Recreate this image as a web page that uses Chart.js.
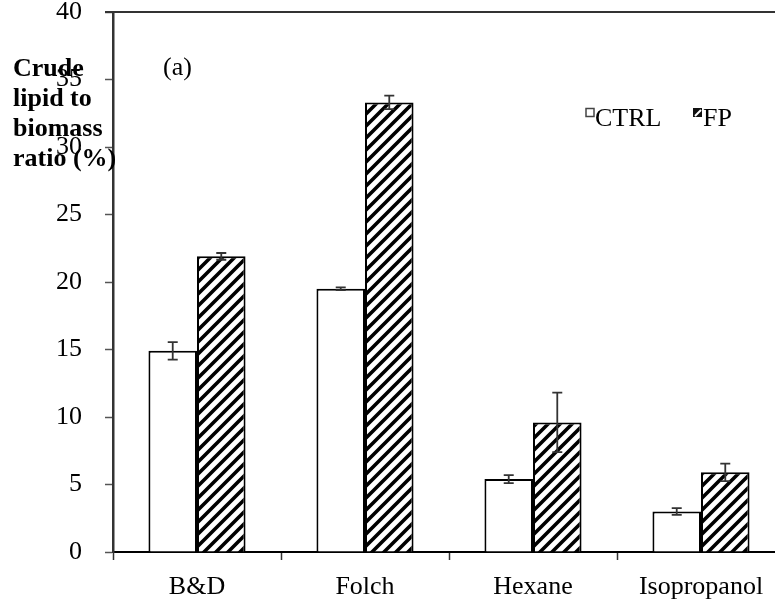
<!DOCTYPE html>
<html>
<head>
<meta charset="utf-8">
<script src="https://cdn.jsdelivr.net/npm/chart.js@4.4.1/dist/chart.umd.min.js"></script>
<style>
  html, body { margin: 0; padding: 0; background: #fff; overflow: hidden; width: 775px; height: 611px; }
  #wrap { position: absolute; left: 0; top: 0; width: 790px; height: 611px; }
</style>
</head>
<body>
<div id="wrap"><canvas id="c" width="790" height="611"></canvas></div>
<script>
// ---- data ----
const categories = ['B&D', 'Folch', 'Hexane', 'Isopropanol'];
const ctrlValues = [14.9, 19.5, 5.4, 3.0];
const ctrlErrors = [0.65, 0.1, 0.3, 0.25];
const fpValues = [21.9, 33.3, 9.6, 5.9];
const fpErrors = [0.25, 0.5, 2.2, 0.65];
const seriesNames = ['CTRL', 'FP'];
const yTitleLines = ['Crude', 'lipid to', 'biomass', 'ratio (%)'];
const panelLabel = '(a)';

const SERIF = '"Liberation Serif", "Times New Roman", serif';

// hatch pattern
function makeHatch() {
  const n = 12;
  const p = document.createElement('canvas');
  p.width = n; p.height = n;
  const g = p.getContext('2d');
  g.fillStyle = '#fff';
  g.fillRect(0, 0, n, n);
  g.strokeStyle = '#000';
  g.lineWidth = 3.6;
  g.beginPath();
  g.moveTo(-1, n + 1); g.lineTo(n + 1, -1);
  g.moveTo(-n / 2 - 1, n / 2 + 1); g.lineTo(n / 2 + 1, -n / 2 - 1);
  g.moveTo(n / 2 - 1, n * 1.5 + 1); g.lineTo(n * 1.5 + 1, n / 2 - 1);
  g.stroke();
  return document.getElementById('c').getContext('2d').createPattern(p, 'repeat');
}
const hatch = makeHatch();

const errorBars = {
  id: 'errorBars',
  afterDatasetsDraw(chart) {
    const ctx = chart.ctx;
    const y = chart.scales.y;
    const errs = [ctrlErrors, fpErrors];
    ctx.save();
    ctx.strokeStyle = '#333';
    ctx.lineWidth = 1.8;
    chart.data.datasets.forEach((ds, di) => {
      const meta = chart.getDatasetMeta(di);
      meta.data.forEach((el, i) => {
        const v = ds.data[i], e = errs[di][i];
        const x = el.x;
        const yt = y.getPixelForValue(v + e);
        const yb = y.getPixelForValue(v - e);
        ctx.beginPath();
        ctx.moveTo(x, yt); ctx.lineTo(x, yb);
        ctx.moveTo(x - 5, yt); ctx.lineTo(x + 5, yt);
        ctx.moveTo(x - 5, yb); ctx.lineTo(x + 5, yb);
        ctx.stroke();
      });
    });
    ctx.restore();
  }
};

const decorations = {
  id: 'decorations',
  afterDraw(chart) {
    const ctx = chart.ctx;
    const a = chart.chartArea;
    ctx.save();
    // top frame line
    ctx.strokeStyle = '#333';
    ctx.lineWidth = 2;
    ctx.beginPath();
    ctx.moveTo(a.left - 8, a.top);
    ctx.lineTo(a.right, a.top);
    ctx.stroke();

    // y title
    ctx.fillStyle = '#000';
    ctx.font = 'bold 26px ' + SERIF;
    ctx.textAlign = 'left';
    ctx.textBaseline = 'alphabetic';
    yTitleLines.forEach((t, i) => ctx.fillText(t, 13, 76 + i * 30));

    // panel label
    ctx.font = '26px ' + SERIF;
    ctx.fillText(panelLabel, 163, 75);

    // legend
    ctx.lineWidth = 1.5;
    ctx.strokeStyle = '#444';
    ctx.strokeRect(586, 108.5, 8, 8);
    ctx.fillText(seriesNames[0], 595, 126);
    ctx.fillStyle = '#111';
    ctx.fillRect(693, 108, 9, 9);
    ctx.strokeStyle = '#fff';
    ctx.lineWidth = 2;
    ctx.beginPath();
    ctx.moveTo(695, 116); ctx.lineTo(701, 110);
    ctx.stroke();
    ctx.fillStyle = '#000';
    ctx.fillText(seriesNames[1], 703, 126);
    ctx.restore();
  }
};

new Chart(document.getElementById('c'), {
  type: 'bar',
  data: {
    labels: categories,
    datasets: [
      { label: seriesNames[0], data: ctrlValues, backgroundColor: '#fff', borderColor: '#000', borderWidth: 2 },
      { label: seriesNames[1], data: fpValues, backgroundColor: hatch, borderColor: '#000', borderWidth: 2 }
    ]
  },
  options: {
    responsive: false,
    devicePixelRatio: 1,
    animation: false,
    events: [],
    layout: { padding: { left: 0, top: 12, right: 5, bottom: 0 } },
    datasets: { bar: { categoryPercentage: 0.578, barPercentage: 1.0 } },
    plugins: { legend: { display: false }, title: { display: false }, tooltip: { enabled: false } },
    scales: {
      x: {
        grid: { display: true, drawOnChartArea: false, drawTicks: true, tickLength: 8, tickColor: '#333', tickWidth: 1.5, offset: true },
        border: { display: true, color: '#000', width: 2 },
        ticks: { color: '#000', font: { family: SERIF, size: 26, lineHeight: 1.2 }, padding: 12, maxRotation: 0, autoSkip: false },
        afterFit(s) { s.height = 59; s.paddingLeft = 0; s.paddingRight = 0; s.paddingTop = 0; s.paddingBottom = 0; }
      },
      y: {
        min: 0, max: 40,
        grid: { display: true, drawOnChartArea: false, drawTicks: true, tickLength: 8, tickColor: '#555', tickWidth: 1.5 },
        border: { display: true, color: '#333', width: 2.5 },
        ticks: { stepSize: 5, color: '#000', font: { family: SERIF, size: 26, lineHeight: 0.9 }, padding: 23 },
        afterFit(s) { s.width = 113; s.paddingTop = 0; s.paddingBottom = 0; s.paddingLeft = 0; s.paddingRight = 0; }
      }
    }
  },
  plugins: [errorBars, decorations]
});
</script>
</body>
</html>
